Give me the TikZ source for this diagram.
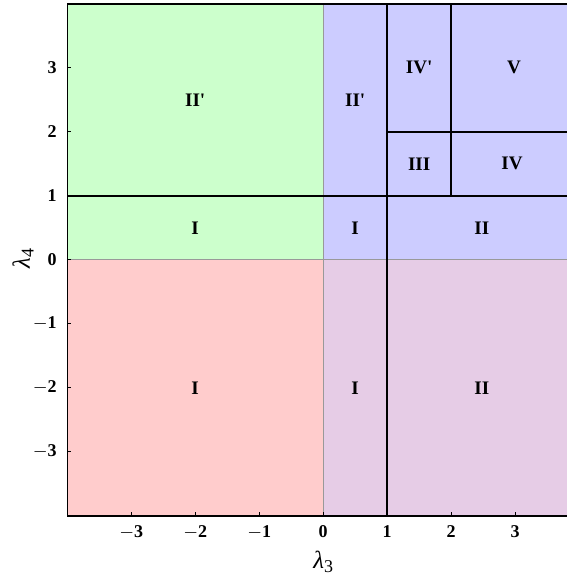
\documentclass[tikz,border=0pt]{standalone}
\usepackage{fontspec}
\setmainfont{Liberation Serif}
\definecolor{regA}{HTML}{CCFFCC}
\definecolor{regB}{HTML}{CCCCFF}
\definecolor{regC}{HTML}{FFCCCC}
\definecolor{regD}{HTML}{E6CCE6}
\newcommand{\prm}{\textquotesingle}
\newcommand{\lam}[1]{\textit{λ}\raisebox{-0.35ex}{\fontsize{8}{9}\selectfont #1}}
\tikzset{
  reglbl/.style={font=\fontsize{8.5}{10}\selectfont\bfseries},
  ticklbl/.style={font=\fontsize{8}{9}\selectfont\bfseries},
  bnd/.style={black,line width=0.9pt}
}
\begin{document}
\begin{tikzpicture}[x=1cm,y=1cm]
\useasboundingbox (-5.05,-4.94) rectangle (3.81,4.06);
% regions
\fill[regA] (-4,0) rectangle (0,4);
\fill[regB] (0,0) rectangle (3.81,4);
\fill[regC] (-4,-4) rectangle (0,0);
\fill[regD] (0,-4) rectangle (3.81,0);
\draw[gray!80,line width=0.4pt] (0,-4) -- (0,4);
\draw[gray!80,line width=0.4pt] (-4,0) -- (3.81,0);
% boundaries
\draw[bnd] (-4,1) -- (3.81,1);
\draw[bnd] (1,-4) -- (1,4);
\draw[bnd] (2,1) -- (2,4);
\draw[bnd] (1,2) -- (3.81,2);
% frame
\draw[black,line width=0.6pt] (3.81,4) -- (-4,4) -- (-4,-4) -- (3.81,-4);
\foreach \t in {-3,...,3} {
  \draw[line width=0.4pt] (-4,\t) -- (-3.94,\t);
  \draw[line width=0.4pt] (\t,-4) -- (\t,-3.94);
}
% tick labels
\foreach \t/\s in {-3/$-$3,-2/$-$2,-1/$-$1,0/0,1/1,2/2,3/3} {
  \node[ticklbl,anchor=base] (xt\t) at (\t,-4.34) {\s};
  \node[ticklbl,anchor=east] (yt\t) at (-4.04,\t) {\s};
}
\node[font=\fontsize{11}{12}\selectfont] (xlab) at (0,-4.72) {\lam{3}};
\node[font=\fontsize{11}{12}\selectfont,rotate=90] (ylab) at (-4.69,0.02) {\lam{4}};
% region labels
\node[reglbl] (gII) at (-2,2.5) {II\prm};
\node[reglbl] (gI) at (-2,0.5) {I};
\node[reglbl] (rI) at (-2,-2) {I};
\node[reglbl] (bIIp) at (0.5,2.5) {II\prm};
\node[reglbl] (bI) at (0.5,0.5) {I};
\node[reglbl] (bII) at (2.48,0.5) {II};
\node[reglbl] (bIII) at (1.5,1.5) {III};
\node[reglbl] (bIV) at (2.95,1.5) {IV};
\node[reglbl] (bIVp) at (1.5,3) {IV\prm};
\node[reglbl] (bV) at (2.98,3) {V};
\node[reglbl] (pI) at (0.5,-2) {I};
\node[reglbl] (pII) at (2.48,-2) {II};
\end{tikzpicture}
\end{document}
